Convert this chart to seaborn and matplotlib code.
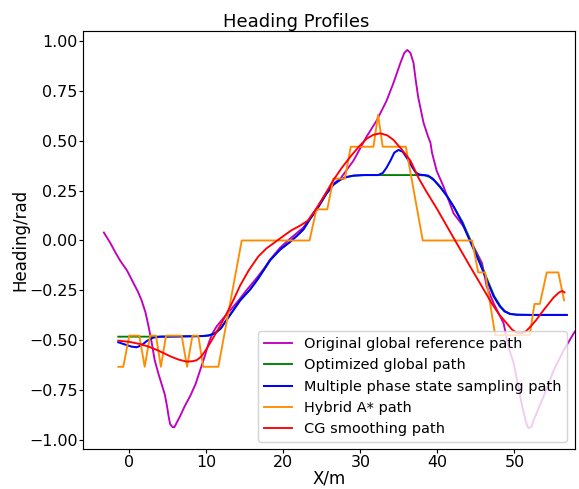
import matplotlib
matplotlib.use("Agg")
import matplotlib.pyplot as plt
import seaborn as sns
import pandas as pd

# Original global reference path (magenta)
ref_x = [-3.3, -2.5, -1.8, -1.2, -0.3, 0.5, 1.1, 1.6, 2.1, 2.5, 2.9, 3.3, 3.8, 4.2, 4.6, 4.9, 5.1, 5.3,
         5.6, 5.85, 6.2, 6.6, 7.2, 7.9, 8.6, 9.2, 9.8, 10.3, 10.8, 11.35, 12.2, 13.1, 14.2, 15.2, 16.5,
         17.5, 18.3, 19.6, 20.9, 22.6, 24.3, 25.6, 26.5, 27.4, 29.1, 30.8, 32.1, 33.4, 34.3, 35.2, 35.7,
         36.1, 36.5, 36.9, 37.2, 37.5, 38.2, 38.8, 39.1, 39.3, 39.9, 40.8, 42.1, 43.4, 44.7, 45.8, 46.4,
         47.3, 48.6, 49.2, 49.9, 50.5, 51.0, 51.5, 51.8, 52.2, 52.5, 53.8, 55.1, 56.4, 57.7, 58.5]
ref_y = [0.04, -0.01, -0.06, -0.10, -0.15, -0.21, -0.255, -0.30, -0.36, -0.43, -0.51, -0.60, -0.67,
         -0.72, -0.77, -0.83, -0.88, -0.92, -0.935, -0.936, -0.91, -0.88, -0.83, -0.78, -0.72, -0.65,
         -0.58, -0.515, -0.465, -0.43, -0.39, -0.35, -0.30, -0.25, -0.19, -0.14, -0.095, -0.035, 0.01,
         0.065, 0.16, 0.24, 0.285, 0.31, 0.40, 0.52, 0.60, 0.70, 0.79, 0.89, 0.94, 0.955, 0.94, 0.89,
         0.80, 0.72, 0.59, 0.52, 0.49, 0.44, 0.35, 0.27, 0.136, 0.07, -0.03, -0.114, -0.23, -0.315,
         -0.415, -0.53, -0.615, -0.73, -0.83, -0.91, -0.94, -0.935, -0.90, -0.78, -0.65, -0.55, -0.465,
         -0.42]

# Optimized global path (green)
opt_x = [-1.43, 4.0, 6.0, 8.0, 9.5, 10.3, 11.1, 11.9, 12.6, 13.5, 14.4, 15.7, 16.75, 18.3, 19.6, 20.9,
         21.8, 22.6, 23.5, 24.3, 25.6, 26.5, 27.4, 28.2, 29.1, 30.5, 32.3, 35.0, 37.5, 38.4, 39.0, 39.6,
         40.5, 41.3, 42.2, 43.3, 44.3, 45.4, 46.5, 47.4, 48.2, 48.8, 49.5, 50.4, 52.0, 54.0, 56.8]
opt_y = [-0.482, -0.482, -0.481, -0.480, -0.479, -0.476, -0.466, -0.44, -0.40, -0.35, -0.30, -0.245,
         -0.19, -0.098, -0.045, -0.006, 0.025, 0.055, 0.11, 0.153, 0.235, 0.28, 0.305, 0.318, 0.325,
         0.328, 0.328, 0.328, 0.328, 0.326, 0.318, 0.30, 0.26, 0.22, 0.165, 0.09, 0.0, -0.095, -0.198,
         -0.28, -0.33, -0.355, -0.368, -0.372, -0.373, -0.373, -0.373]

# Multiple phase state sampling path (blue)
mps_x = [-1.43, -0.5, 0.3, 0.96, 1.6, 2.3, 3.1, 4.0, 6.0, 8.0, 9.5, 10.3, 11.1, 11.9, 12.6, 13.5, 14.4,
         15.7, 16.75, 18.3, 19.6, 20.9, 21.8, 22.6, 23.5, 24.3, 25.6, 26.5, 27.4, 28.2, 29.1, 30.5, 32.3,
         32.9, 33.4, 33.9, 34.4, 34.95, 35.5, 36.1, 36.7, 37.2, 37.7, 38.3, 38.8, 39.4, 40.35, 41.2, 42.1,
         43.2, 44.2, 45.3, 46.4, 47.3, 48.1, 48.7, 49.4, 50.3, 52.0, 54.0, 56.8]
mps_y = [-0.51, -0.522, -0.532, -0.535, -0.525, -0.503, -0.487, -0.482, -0.481, -0.480, -0.479,
         -0.476, -0.466, -0.44, -0.40, -0.35, -0.30, -0.245, -0.19, -0.098, -0.045, -0.006, 0.025,
         0.055, 0.11, 0.153, 0.235, 0.28, 0.305, 0.318, 0.325, 0.328, 0.328, 0.338, 0.365, 0.40, 0.44,
         0.454, 0.445, 0.41, 0.37, 0.34, 0.33, 0.328, 0.325, 0.31, 0.27, 0.225, 0.17, 0.09, 0.0,
         -0.095, -0.198, -0.28, -0.33, -0.355, -0.368, -0.372, -0.373, -0.373, -0.373]

# Hybrid A* path (orange)
ha_x = [-1.43, -0.78, 0.0, 1.3, 2.0, 2.7, 3.47, 4.1, 4.77, 6.8, 7.5, 8.2, 8.96, 9.6, 11.56, 14.6, 23.4,
        24.3, 25.7, 26.5, 28.0, 28.75, 31.7, 32.3, 32.9, 35.9, 38.1, 44.5, 45.3, 46.2, 47.5, 52.0, 52.6,
        53.3, 54.2, 55.7, 56.45]
ha_y = [-0.633, -0.633, -0.477, -0.477, -0.633, -0.477, -0.477, -0.633, -0.477, -0.477, -0.633, -0.477,
        -0.477, -0.633, -0.633, 0.0, 0.0, 0.156, 0.156, 0.31, 0.31, 0.47, 0.47, 0.63, 0.47, 0.47, 0.0,
        0.0, -0.16, -0.16, -0.474, -0.474, -0.318, -0.318, -0.16, -0.16, -0.30]

# CG smoothing path (red)
cg_x = [-1.43, 0.0, 1.4, 2.5, 3.6, 4.5, 5.3, 6.4, 7.45, 8.2, 8.75, 9.3, 9.8, 10.4, 11.1, 11.9, 12.65,
        13.5, 14.4, 15.5, 16.75, 17.8, 19.6, 21.0, 22.2, 23.2, 24.3, 25.4, 26.5, 27.6, 28.7, 29.8, 30.8,
        31.7, 32.6, 33.5, 34.3, 35.4, 36.5, 37.6, 38.5, 40.0, 42.0, 44.2, 46.0, 47.06, 48.0, 49.0, 49.7,
        50.3, 50.8, 51.5, 52.0, 52.8, 53.8, 55.1, 55.8, 56.2, 56.5]
cg_y = [-0.502, -0.508, -0.519, -0.532, -0.549, -0.565, -0.58, -0.597, -0.607, -0.605, -0.60, -0.583,
        -0.557, -0.52, -0.474, -0.42, -0.365, -0.30, -0.225, -0.15, -0.08, -0.04, 0.011, 0.05, 0.075,
        0.10, 0.16, 0.23, 0.303, 0.365, 0.42, 0.47, 0.51, 0.53, 0.537, 0.527, 0.504, 0.455, 0.40, 0.31,
        0.25, 0.155, 0.02, -0.127, -0.245, -0.315, -0.37, -0.415, -0.447, -0.462, -0.465, -0.455,
        -0.435, -0.40, -0.348, -0.285, -0.26, -0.253, -0.26]

series = [
    ("Original global reference path", ref_x, ref_y, "m", 1.3),
    ("Optimized global path", opt_x, opt_y, "g", 1.3),
    ("Multiple phase state sampling path", mps_x, mps_y, "b", 1.4),
    ("Hybrid A* path", ha_x, ha_y, "darkorange", 1.3),
    ("CG smoothing path", cg_x, cg_y, "r", 1.3),
]

dpi = 104
fig = plt.figure(figsize=(579 / dpi, 489 / dpi), dpi=dpi)
ax = fig.add_axes([83.3 / 579, 1 - 449 / 489, (574.5 - 83.3) / 579, (449 - 31) / 489])

for label, xs, ys, color, lw in series:
    df = pd.DataFrame({"x": xs, "y": ys})
    sns.lineplot(data=df, x="x", y="y", sort=False, estimator=None, color=color,
                 linewidth=lw, label=label, ax=ax)

ax.set_xlim(-5.97, 57.8)
ax.set_ylim(-1.045, 1.05)
ax.set_title("Heading Profiles", fontsize=12.5, pad=2, x=0.434)
ax.set_xlabel("X/m", fontsize=11.5, labelpad=0)
ax.set_ylabel("Heading/rad", fontsize=11.5, labelpad=0)
ax.tick_params(labelsize=11, length=2.5, pad=1.5)
ax.legend(loc="lower right", fontsize=10)

fig.savefig("out.png", dpi=dpi)
